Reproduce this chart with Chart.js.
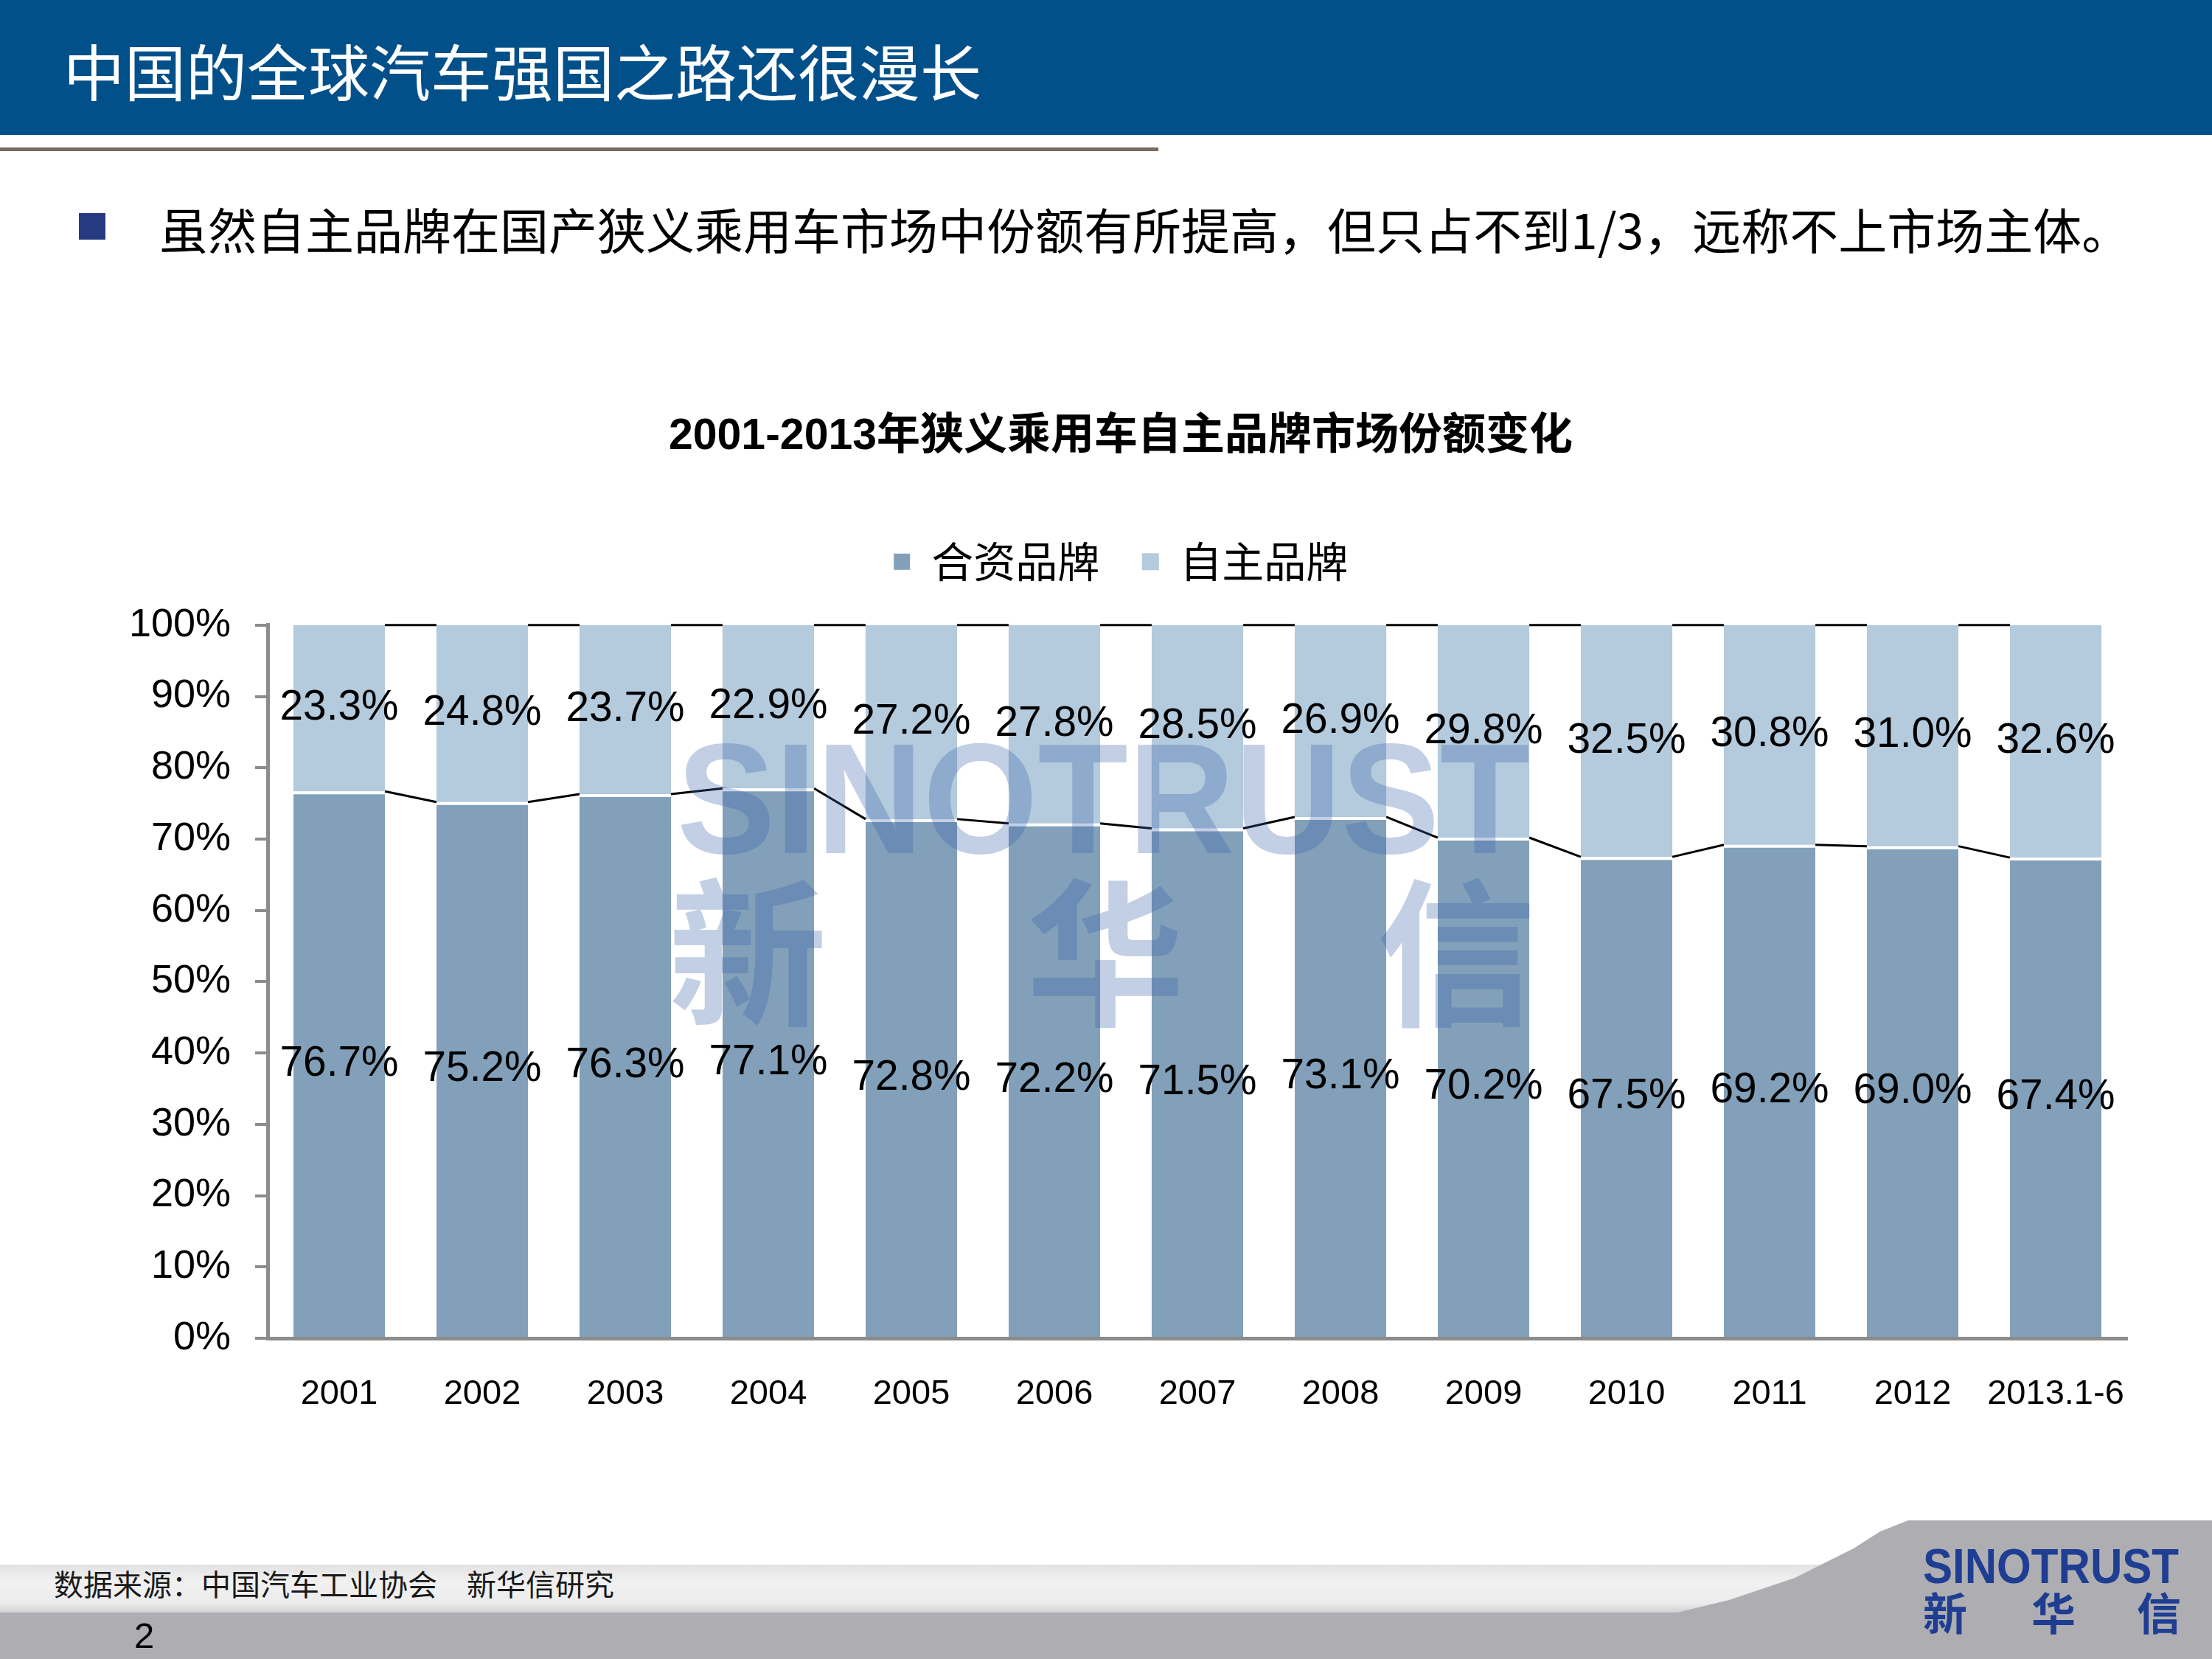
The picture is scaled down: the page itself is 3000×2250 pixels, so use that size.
<!DOCTYPE html>
<html>
<head>
<meta charset="utf-8">
<script src="https://cdn.jsdelivr.net/npm/chart.js@4.4.1/dist/chart.umd.min.js"></script>
<style>
html,body{margin:0;padding:0;background:#fff;}
#page{position:relative;width:3000px;height:2250px;overflow:hidden;background:#fff;font-family:'Noto Sans CJK SC',sans-serif;}
#page div{position:absolute;white-space:nowrap;}
#hdr{left:0;top:0;width:3000px;height:183px;background:#02508A;}
#hdrTitle{left:86px;top:53px;font-size:83px;line-height:83px;color:#fff;}
#rule{left:0;top:200px;width:1571px;height:5px;background:#7A6A60;}
#bullet{left:107px;top:289px;width:36px;height:36px;background:#263A82;}
#sub{left:216px;top:276px;font-size:66px;line-height:66px;color:#000;}
#band{left:0;top:2122px;width:3000px;height:65px;background:linear-gradient(to bottom,#e2e2e2,#f1f1f1 35%,#ececec 80%,#d2d2d2);}
#dark{left:0;top:2187px;width:3000px;height:63px;background:#AEAEB2;}
#wedge{left:2200px;top:2060px;width:800px;height:190px;background:#AEAEB2;
  clip-path:polygon(388px 2px,800px 2px,800px 190px,75px 190px,75px 127px,145px 110px,234px 80px,314px 40px,350px 17px);}
#src{left:73px;top:2127px;font-size:40px;line-height:40px;color:#1a1a1a;}
#pg{left:182px;top:2194px;font-family:'Liberation Sans',Arial,sans-serif;font-size:49px;line-height:49px;color:#000;}
#logo1{left:2608px;top:2091px;font-family:'Liberation Sans',Arial,sans-serif;font-weight:bold;font-size:66px;line-height:66px;color:#1F3E92;transform-origin:0 0;transform:scaleX(0.91);}
.lc{top:2155px;font-weight:bold;font-size:60px;line-height:60px;color:#1F3E92;}
#c{position:absolute;left:0;top:0;}
</style>
</head>
<body>
<div id="page">
  <div id="hdr"></div>
  <div id="hdrTitle">中国的全球汽车强国之路还很漫长</div>
  <div id="rule"></div>
  <div id="bullet"></div>
  <div id="sub">虽然自主品牌在国产狭义乘用车市场中份额有所提高，但只占不到1/3，远称不上市场主体。</div>
  <div id="band"></div>
  <div id="dark"></div>
  <div id="wedge"></div>
  <div id="src">数据来源：中国汽车工业协会　新华信研究</div>
  <div id="pg">2</div>
  <div id="logo1">SINOTRUST</div>
  <div class="lc" style="left:2608px">新</div>
  <div class="lc" style="left:2755px">华</div>
  <div class="lc" style="left:2898px">信</div>
  <canvas id="c" width="3000" height="2250"></canvas>
</div>
<script>
// ---- data ----
const categories = ['2001','2002','2003','2004','2005','2006','2007','2008','2009','2010','2011','2012','2013.1-6'];
const jvShare  = [76.7, 75.2, 76.3, 77.1, 72.8, 72.2, 71.5, 73.1, 70.2, 67.5, 69.2, 69.0, 67.4];
const ownShare = [23.3, 24.8, 23.7, 22.9, 27.2, 27.8, 28.5, 26.9, 29.8, 32.5, 30.8, 31.0, 32.6];
const seriesNames = ['合资品牌', '自主品牌'];
const chartTitle = '2001-2013年狭义乘用车自主品牌市场份额变化';
const yTickStep = 10;
const yMin = 0, yMax = 100;

// ---- styles ----
const colJV = '#82A0B9';
const colOwn = '#B4CADD';
const axisGray = '#8C8C8C';
const labelFont = "57px 'Liberation Sans', Arial";
const labelTargetWidth = 161; // width of a "23.3%" label in the picture

const overlay = {
  id: 'overlay',
  afterDatasetsDraw(chart) {
    const ctx = chart.ctx;
    const metas = [chart.getDatasetMeta(0), chart.getDatasetMeta(1)];
    ctx.save();
    // series lines
    ctx.strokeStyle = '#000';
    ctx.lineWidth = 3;
    metas.forEach(m => {
      for (let i = 0; i < m.data.length - 1; i++) {
        const a = m.data[i].getProps(['x','y','width'], true);
        const b = m.data[i+1].getProps(['x','y','width'], true);
        ctx.beginPath();
        ctx.moveTo(a.x + a.width/2, a.y);
        ctx.lineTo(b.x - b.width/2, b.y);
        ctx.stroke();
      }
    });
    // watermark
    ctx.fillStyle = 'rgba(55,95,170,0.30)';
    ctx.font = "bold 214px 'Liberation Sans', Arial";
    ctx.textAlign = 'left';
    ctx.textBaseline = 'alphabetic';
    const wm = 'SINOTRUST';
    const w = ctx.measureText(wm).width;
    ctx.save();
    ctx.translate(918, 1157);
    ctx.scale(1157 / w, 1);
    ctx.fillText(wm, 0, 0);
    ctx.restore();
    ctx.font = "bold 215px 'Noto Sans CJK SC'";
    ctx.textAlign = 'center';
    ctx.textBaseline = 'middle';
    [['新',1014],['华',1499],['信',1975]].forEach(([t,x]) => ctx.fillText(t, x, 1292));
    // value labels
    ctx.fillStyle = '#000';
    ctx.font = labelFont;
    ctx.textAlign = 'center';
    ctx.textBaseline = 'middle';
    const sx = labelTargetWidth / ctx.measureText('23.3%').width;
    chart.data.datasets.forEach((ds, di) => {
      const m = chart.getDatasetMeta(di);
      m.data.forEach((el, i) => {
        const p = el.getProps(['x','y','base'], true);
        ctx.save();
        ctx.translate(p.x, (p.y + p.base) / 2);
        ctx.scale(sx, 1);
        ctx.fillText(ds.data[i].toFixed(1) + '%', 0, 0);
        ctx.restore();
      });
    });
    ctx.restore();
  }
};

new Chart(document.getElementById('c'), {
  type: 'bar',
  data: {
    labels: categories,
    datasets: [
      { label: seriesNames[0], data: jvShare, backgroundColor: colJV, borderColor: '#fff',
        borderWidth: {top: 4, left: 0, right: 0, bottom: 0}, borderSkipped: false,
        barPercentage: 0.64, categoryPercentage: 1.0 },
      { label: seriesNames[1], data: ownShare, backgroundColor: colOwn, borderColor: '#fff',
        borderWidth: 0, barPercentage: 0.64, categoryPercentage: 1.0 }
    ]
  },
  options: {
    responsive: false,
    animation: false,
    devicePixelRatio: 1,
    layout: { padding: { left: 155, right: 115, top: 0, bottom: 305 } },
    plugins: {
      title: {
        display: true, text: chartTitle, color: '#000',
        font: { size: 59, weight: 'bold', family: "'Liberation Sans', 'Noto Sans CJK SC'", lineHeight: 1.2 },
        padding: { top: 557.6, bottom: 47.4 }
      },
      legend: {
        display: true, position: 'top', weight: 1750,
        labels: { color: '#000', boxWidth: 23, boxHeight: 23, padding: 57.5,
          font: { size: 57, family: "'Noto Sans CJK SC'" } }
      },
      subtitle: {
        display: true, text: '', font: { size: 10, lineHeight: 1 },
        padding: { top: 0, bottom: 37.5 }
      },
      tooltip: { enabled: false }
    },
    scales: {
      x: {
        stacked: true,
        grid: { display: false },
        border: { display: true, color: axisGray, width: 5 },
        ticks: { color: '#000', font: { size: 47, family: "'Liberation Sans', Arial" },
          padding: 40, maxRotation: 0, autoSkip: false },
        afterFit(s) { s.height = 130; }
      },
      y: {
        stacked: true, min: yMin, max: yMax,
        grid: { display: true, drawOnChartArea: false, drawTicks: true, tickLength: 17,
          color: axisGray, lineWidth: 4 },
        border: { display: true, color: axisGray, width: 5 },
        ticks: { stepSize: yTickStep, color: '#000', padding: 33,
          font: { size: 54, family: "'Liberation Sans', Arial" },
          callback: v => v + '%' },
        afterFit(s) { s.width = 208; }
      }
    }
  },
  plugins: [overlay]
});
</script>
</body>
</html>
